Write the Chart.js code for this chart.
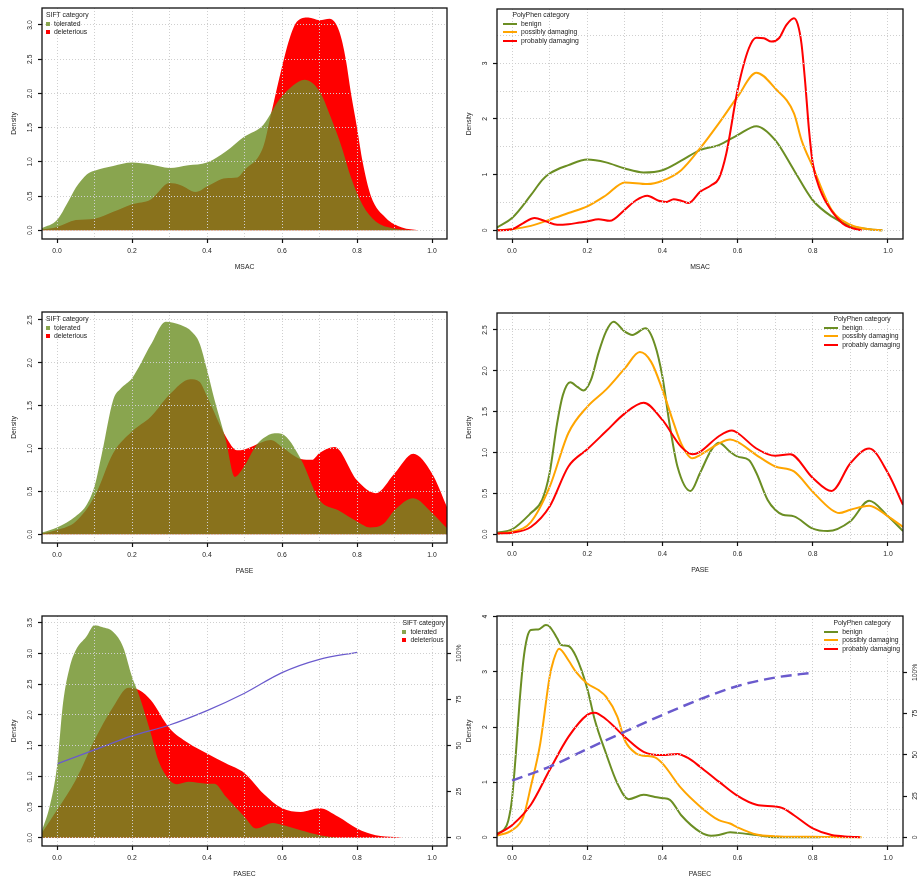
<!DOCTYPE html>
<html lang="en">
<head>
<meta charset="UTF-8">
<title>Density by SIFT / PolyPhen category</title>
<script src="https://cdn.jsdelivr.net/npm/chart.js"></script>
<style>
  body { margin: 0; background: #fff; font-family: 'Liberation Sans', Arial, sans-serif; }
  #page { position: relative; width: 922px; height: 879px; overflow: hidden; }
  #page canvas { position: absolute; }
  .legend { position: absolute; font-size: 6.8px; color: #222; line-height: 8.3px; white-space: nowrap; }
  .legend .ttl { text-align: center; height: 10px; line-height: 10px; }
  .legend .row { display: flex; align-items: center; height: 8.3px; }
  .legend .sq { width: 4px; height: 4px; margin-right: 4px; }
  .legend .ln { width: 14px; height: 2px; margin-right: 4px; }
</style>
</head>
<body>
<div id="page"></div>
<script>
// ---- axes ----
const xGrid = [0, 0.1, 0.2, 0.3, 0.4, 0.5, 0.6, 0.7, 0.8, 0.9, 1.0];
const xLabelled = [0, 0.2, 0.4, 0.6, 0.8, 1.0];
const pctTicks = [0, 25, 50, 75, 100];
const pctLabels = ['0', '25', '50', '75', '100%'];

const siftNames = ['tolerated', 'deleterious'];
const polyNames = ['benign', 'possibly damaging', 'probably damaging'];

// ---- MSAC, SIFT ----
const msacTolX = [-0.04, 0, 0.03, 0.05, 0.08, 0.1, 0.15, 0.2, 0.25, 0.3, 0.35, 0.4, 0.45, 0.5, 0.55, 0.593, 0.63, 0.66, 0.7, 0.73, 0.76, 0.784, 0.815, 0.85, 0.895, 0.94, 0.99];
const msacTolY = [0.03, 0.15, 0.42, 0.62, 0.82, 0.87, 0.94, 0.99, 0.96, 0.91, 0.95, 0.99, 1.15, 1.37, 1.54, 1.91, 2.12, 2.2, 2.03, 1.65, 1.2, 0.77, 0.37, 0.13, 0.03, 0.005, 0];
const msacDelX = [-0.04, 0, 0.05, 0.1, 0.15, 0.2, 0.25, 0.3, 0.33, 0.37, 0.4, 0.45, 0.48, 0.5, 0.55, 0.57, 0.593, 0.62, 0.64, 0.67, 0.7, 0.727, 0.753, 0.77, 0.784, 0.8, 0.815, 0.837, 0.877, 0.92, 0.965];
const msacDelY = [0.01, 0.05, 0.15, 0.17, 0.27, 0.38, 0.45, 0.69, 0.66, 0.56, 0.64, 0.76, 0.77, 0.88, 1.22, 1.68, 2.23, 2.8, 3.05, 3.11, 3.07, 3.09, 2.9, 2.5, 2.0, 1.5, 1.0, 0.5, 0.18, 0.04, 0];

// ---- MSAC, PolyPhen ----
const msacBenX = [-0.04, 0, 0.05, 0.08, 0.1, 0.15, 0.2, 0.25, 0.3, 0.35, 0.4, 0.45, 0.5, 0.55, 0.6, 0.65, 0.7, 0.75, 0.8, 0.85, 0.9, 0.95, 0.985];
const msacBenY = [0.05, 0.22, 0.63, 0.9, 1.02, 1.17, 1.27, 1.22, 1.11, 1.04, 1.08, 1.25, 1.44, 1.53, 1.71, 1.87, 1.62, 1.08, 0.54, 0.25, 0.08, 0.02, 0];
const msacPosX = [-0.04, 0, 0.05, 0.1, 0.15, 0.2, 0.25, 0.3, 0.36, 0.4, 0.45, 0.5, 0.55, 0.6, 0.65, 0.7, 0.75, 0.77, 0.8, 0.85, 0.9, 0.95, 0.985];
const msacPosY = [0, 0.02, 0.08, 0.19, 0.31, 0.43, 0.63, 0.86, 0.83, 0.89, 1.08, 1.47, 1.92, 2.4, 2.83, 2.55, 2.1, 1.62, 1.14, 0.37, 0.1, 0.02, 0];
const msacProX = [-0.04, 0, 0.03, 0.06, 0.09, 0.12, 0.15, 0.18, 0.2, 0.23, 0.26, 0.3, 0.33, 0.36, 0.39, 0.41, 0.43, 0.45, 0.47, 0.5, 0.53, 0.55, 0.57, 0.6, 0.63, 0.65, 0.67, 0.69, 0.71, 0.73, 0.75, 0.76, 0.77, 0.78, 0.79, 0.8, 0.82, 0.85, 0.88, 0.9, 0.93];
const msacProY = [0, 0.02, 0.13, 0.22, 0.16, 0.1, 0.11, 0.14, 0.16, 0.2, 0.17, 0.37, 0.54, 0.62, 0.53, 0.51, 0.56, 0.53, 0.49, 0.69, 0.81, 0.93, 1.38, 2.52, 3.27, 3.46, 3.45, 3.39, 3.45, 3.69, 3.81, 3.7, 3.35, 2.64, 1.8, 1.2, 0.72, 0.35, 0.12, 0.05, 0];

// ---- PASE, SIFT ----
const paseTolX = [-0.04, 0, 0.05, 0.08, 0.1, 0.12, 0.15, 0.17, 0.2, 0.25, 0.29, 0.33, 0.36, 0.38, 0.4, 0.42, 0.45, 0.474, 0.5, 0.53, 0.55, 0.58, 0.6, 0.65, 0.7, 0.75, 0.8, 0.835, 0.87, 0.9, 0.95, 1.0, 1.04];
const paseTolY = [0.02, 0.08, 0.21, 0.35, 0.56, 0.95, 1.57, 1.7, 1.82, 2.21, 2.48, 2.44, 2.36, 2.23, 1.92, 1.57, 1.1, 0.67, 0.8, 1.03, 1.12, 1.18, 1.17, 0.88, 0.4, 0.28, 0.15, 0.08, 0.12, 0.28, 0.42, 0.25, 0.07];
const paseDelX = [-0.04, 0, 0.05, 0.1, 0.15, 0.2, 0.25, 0.3, 0.355, 0.38, 0.4, 0.45, 0.48, 0.5, 0.55, 0.57, 0.6, 0.65, 0.68, 0.7, 0.74, 0.8, 0.85, 0.9, 0.95, 1.0, 1.04];
const paseDelY = [0.01, 0.05, 0.15, 0.44, 0.95, 1.2, 1.37, 1.63, 1.81, 1.78, 1.61, 1.14, 0.98, 0.99, 1.08, 1.1, 1.02, 0.88, 0.87, 0.95, 1.02, 0.63, 0.48, 0.71, 0.94, 0.71, 0.32];

// ---- PASE, PolyPhen ----
const paseBenX = [-0.04, 0, 0.05, 0.08, 0.1, 0.12, 0.135, 0.155, 0.175, 0.19, 0.21, 0.23, 0.25, 0.27, 0.3, 0.32, 0.355, 0.38, 0.4, 0.42, 0.44, 0.475, 0.5, 0.53, 0.55, 0.58, 0.6, 0.63, 0.65, 0.68, 0.7, 0.72, 0.75, 0.8, 0.84, 0.9, 0.95, 1.0, 1.04];
const paseBenY = [0.02, 0.06, 0.26, 0.42, 0.75, 1.36, 1.7, 1.86, 1.8, 1.76, 1.89, 2.22, 2.48, 2.6, 2.48, 2.44, 2.52, 2.32, 1.93, 1.32, 0.83, 0.53, 0.75, 1.03, 1.12, 1.01, 0.95, 0.91, 0.75, 0.42, 0.3, 0.24, 0.22, 0.07, 0.04, 0.16, 0.41, 0.22, 0.04];
const pasePosX = [-0.04, 0, 0.05, 0.1, 0.15, 0.2, 0.25, 0.3, 0.34, 0.37, 0.4, 0.43, 0.45, 0.48, 0.5, 0.55, 0.58, 0.6, 0.65, 0.7, 0.75, 0.8, 0.85, 0.87, 0.9, 0.95, 1.0, 1.04];
const pasePosY = [0.01, 0.03, 0.15, 0.58, 1.24, 1.56, 1.77, 2.03, 2.23, 2.11, 1.77, 1.36, 1.11, 0.93, 0.97, 1.11, 1.16, 1.13, 0.97, 0.83, 0.77, 0.52, 0.3, 0.26, 0.3, 0.35, 0.22, 0.09];
const paseProX = [-0.04, 0, 0.05, 0.1, 0.15, 0.2, 0.25, 0.3, 0.35, 0.4, 0.45, 0.48, 0.5, 0.55, 0.585, 0.6, 0.65, 0.7, 0.74, 0.8, 0.85, 0.9, 0.95, 1.0, 1.04];
const paseProY = [0.01, 0.02, 0.09, 0.34, 0.83, 1.04, 1.26, 1.48, 1.61, 1.4, 1.07, 0.98, 1.01, 1.2, 1.27, 1.24, 1.05, 0.96, 0.98, 0.69, 0.53, 0.87, 1.05, 0.75, 0.36];

// ---- PASEC, SIFT ----
const pasecTolX = [-0.04, -0.02, 0, 0.016, 0.034, 0.05, 0.078, 0.1, 0.12, 0.15, 0.176, 0.2, 0.22, 0.25, 0.27, 0.3, 0.32, 0.35, 0.4, 0.42, 0.45, 0.5, 0.53, 0.576, 0.6, 0.65, 0.7, 0.75];
const pasecTolY = [0.12, 0.5, 1.16, 2.19, 2.78, 3.05, 3.27, 3.46, 3.43, 3.35, 3.11, 2.62, 2.3, 1.7, 1.26, 0.94, 0.87, 0.91, 0.88, 0.88, 0.67, 0.34, 0.15, 0.24, 0.21, 0.12, 0.04, 0];
const pasecDelX = [-0.04, 0, 0.05, 0.1, 0.15, 0.19, 0.22, 0.25, 0.3, 0.35, 0.4, 0.45, 0.5, 0.55, 0.6, 0.65, 0.7, 0.75, 0.8, 0.85, 0.9, 0.92];
const pasecDelY = [0.08, 0.45, 0.94, 1.59, 2.13, 2.44, 2.4, 2.24, 1.78, 1.54, 1.37, 1.21, 1.05, 0.72, 0.48, 0.42, 0.48, 0.34, 0.15, 0.04, 0.01, 0];
const pasecCumX = [0, 0.1, 0.2, 0.3, 0.4, 0.5, 0.6, 0.7, 0.8];
const pasecCumSift = [40, 47.6, 55.2, 61.1, 68.9, 78.3, 89.5, 96.7, 100.5];

// ---- PASEC, PolyPhen ----
const pasecBenX = [-0.04, -0.02, -0.01, 0, 0.01, 0.02, 0.03, 0.04, 0.05, 0.07, 0.09, 0.1, 0.12, 0.13, 0.15, 0.17, 0.2, 0.22, 0.25, 0.28, 0.31, 0.35, 0.38, 0.4, 0.42, 0.45, 0.5, 0.53, 0.55, 0.58, 0.6, 0.65, 0.7, 0.82];
const pasecBenY = [0.07, 0.15, 0.3, 0.7, 1.5, 2.45, 3.2, 3.62, 3.76, 3.77, 3.85, 3.82, 3.61, 3.49, 3.47, 3.28, 2.7, 2.13, 1.52, 0.98, 0.69, 0.77, 0.73, 0.71, 0.68, 0.4, 0.1, 0.03, 0.04, 0.09, 0.08, 0.04, 0, 0];
const pasecPosX = [-0.04, 0, 0.03, 0.05, 0.075, 0.1, 0.11, 0.125, 0.15, 0.17, 0.2, 0.23, 0.25, 0.28, 0.3, 0.33, 0.35, 0.38, 0.4, 0.45, 0.5, 0.55, 0.58, 0.6, 0.65, 0.7, 0.75, 0.8, 0.9, 0.93];
const pasecPosY = [0.03, 0.13, 0.37, 0.92, 1.7, 2.91, 3.2, 3.42, 3.21, 3.0, 2.79, 2.67, 2.55, 2.19, 1.76, 1.52, 1.48, 1.45, 1.34, 0.89, 0.56, 0.31, 0.25, 0.18, 0.05, 0.02, 0.01, 0.01, 0, 0];
const pasecProX = [-0.04, 0, 0.05, 0.1, 0.15, 0.2, 0.22, 0.25, 0.3, 0.35, 0.4, 0.44, 0.47, 0.5, 0.55, 0.6, 0.65, 0.7, 0.72, 0.75, 0.8, 0.85, 0.9, 0.925];
const pasecProY = [0.05, 0.22, 0.59, 1.22, 1.82, 2.22, 2.26, 2.14, 1.82, 1.55, 1.49, 1.51, 1.43, 1.28, 1.01, 0.75, 0.59, 0.56, 0.53, 0.4, 0.16, 0.04, 0.01, 0];
const pasecCumPoly = [34.3, 42.8, 53.5, 64, 74.1, 83.6, 91.7, 96.8, 99.8];

// ---- colours ----
const tolFill = 'rgba(107,142,35,0.8)';
const delFill = '#ff0000';
const polyColors = ['#6b8e23', '#ffa500', '#ff0000'];
const cumColor = '#6a5acd';
const txt = '#222';

Chart.defaults.font.family = "'Liberation Sans', Arial, sans-serif";
Chart.defaults.font.size = 6.8;
Chart.defaults.color = txt;

const pts = (xs, ys) => xs.map((x, i) => ({x: x, y: ys[i]}));
const isIn = (v, arr) => arr.some(a => Math.abs(a - v) < 1e-9);

function siftSets(tx, ty, dx, dy) {
  return [
    {label: siftNames[0], data: pts(tx, ty), backgroundColor: tolFill, borderColor: 'rgba(0,0,0,0)', borderWidth: 0, fill: 'origin', order: 1},
    {label: siftNames[1], data: pts(dx, dy), backgroundColor: delFill, borderColor: 'rgba(0,0,0,0)', borderWidth: 0, fill: 'origin', order: 2}
  ];
}
function polySets(series) {
  return series.map((s, i) => ({label: polyNames[i], data: pts(s[0], s[1]), borderColor: polyColors[i], borderWidth: 2, fill: false, order: 3 - i}));
}

// rotated y tick labels (R style) and the box around the plot region
const rFrame = {
  id: 'rFrame',
  afterDraw(chart) {
    const ctx = chart.ctx, a = chart.chartArea;
    ctx.save();
    ctx.fillStyle = txt;
    ctx.font = "6.8px 'Liberation Sans', Arial, sans-serif";
    ctx.textAlign = 'center';
    ctx.textBaseline = 'middle';
    ['y', 'y1'].forEach(id => {
      const s = chart.scales[id];
      if (!s) return;
      const x = id === 'y' ? a.left - 11.5 : a.right + 12;
      s.ticks.forEach(t => {
        if (!t.label) return;
        ctx.save();
        ctx.translate(x, s.getPixelForValue(t.value));
        ctx.rotate(-Math.PI / 2);
        ctx.fillText(t.label, 0, 0);
        ctx.restore();
      });
    });
    ctx.strokeStyle = '#111';
    ctx.lineWidth = 1.3;
    ctx.strokeRect(a.left, a.top, a.right - a.left, a.bottom - a.top);
    ctx.restore();
  }
};

const panels = [
  {area: [42, 8, 447, 239], xTitle: 'MSAC', yMin: -0.127, yMax: 3.248, yGrid: [0, 0.5, 1, 1.5, 2, 2.5, 3], yLab: [0, 0.5, 1, 1.5, 2, 2.5, 3], dec: 1,
   sets: siftSets(msacTolX, msacTolY, msacDelX, msacDelY), legend: {kind: 'sq', names: siftNames, colors: [tolFill, delFill], left: 46, top: 10}},
  {area: [497, 9, 903, 239], xTitle: 'MSAC', yMin: -0.156, yMax: 3.975, yGrid: [0, 0.5, 1, 1.5, 2, 2.5, 3, 3.5], yLab: [0, 1, 2, 3], dec: 0,
   sets: polySets([[msacBenX, msacBenY], [msacPosX, msacPosY], [msacProX, msacProY]]), legend: {kind: 'ln', names: polyNames, colors: polyColors, left: 503, top: 10}},
  {area: [42, 312, 447, 543], xTitle: 'PASE', yMin: -0.101, yMax: 2.593, yGrid: [0, 0.5, 1, 1.5, 2, 2.5], yLab: [0, 0.5, 1, 1.5, 2, 2.5], dec: 1,
   sets: siftSets(paseTolX, paseTolY, paseDelX, paseDelY), legend: {kind: 'sq', names: siftNames, colors: [tolFill, delFill], left: 46, top: 314}},
  {area: [497, 313, 903, 542], xTitle: 'PASE', yMin: -0.094, yMax: 2.708, yGrid: [0, 0.5, 1, 1.5, 2, 2.5], yLab: [0, 0.5, 1, 1.5, 2, 2.5], dec: 1,
   sets: polySets([[paseBenX, paseBenY], [pasePosX, pasePosY], [paseProX, paseProY]]), legend: {kind: 'ln', names: polyNames, colors: polyColors, right: 22, top: 314}},
  {area: [42, 616, 447, 846], xTitle: 'PASEC', yMin: -0.135, yMax: 3.609, yGrid: [0, 0.5, 1, 1.5, 2, 2.5, 3, 3.5], yLab: [0, 0.5, 1, 1.5, 2, 2.5, 3, 3.5], dec: 1,
   y1: [-4.5, 120.2],
   sets: [{label: 'cumulative', data: pts(pasecCumX, pasecCumSift), yAxisID: 'y1', borderColor: cumColor, borderWidth: 1.2, fill: false, tension: 0, order: 0}]
         .concat(siftSets(pasecTolX, pasecTolY, pasecDelX, pasecDelY)),
   legend: {kind: 'sq', names: siftNames, colors: [tolFill, delFill], right: 477, top: 618}},
  {area: [497, 616, 903, 846], xTitle: 'PASEC', yMin: -0.158, yMax: 4.013, yGrid: [0, 0.5, 1, 1.5, 2, 2.5, 3, 3.5, 4], yLab: [0, 1, 2, 3, 4], dec: 0,
   y1: [-5.27, 134.1],
   sets: polySets([[pasecBenX, pasecBenY], [pasecPosX, pasecPosY], [pasecProX, pasecProY]])
         .concat([{label: 'cumulative', data: pts(pasecCumX, pasecCumPoly), yAxisID: 'y1', borderColor: cumColor, borderWidth: 2.5, borderDash: [11, 6], fill: false, order: 0}]),
   legend: {kind: 'ln', names: polyNames, colors: polyColors, right: 22, top: 618}}
];

const page = document.getElementById('page');

panels.forEach(p => {
  const [L, T, R, B] = p.area;
  const cx = L - 42, cy = T - 8, cw = R - L + 42 + 24, ch = B - T + 48;
  const cv = document.createElement('canvas');
  cv.width = cw; cv.height = ch;
  cv.style.left = cx + 'px'; cv.style.top = cy + 'px';
  cv.style.width = cw + 'px'; cv.style.height = ch + 'px';
  page.appendChild(cv);

  const gridTick = (labs) => (c) => (c.tick && isIn(c.tick.value, labs)) ? '#111' : 'rgba(0,0,0,0)';
  const scales = {
    x: {
      type: 'linear', min: -0.04, max: 1.04,
      afterBuildTicks: s => { s.ticks = xGrid.map(v => ({value: v})); },
      afterFit: s => { s.height = cy + ch - B; },
      ticks: {autoSkip: false, maxRotation: 0, padding: 3.9, callback: v => isIn(v, xLabelled) ? v.toFixed(1) : ''},
      grid: {color: '#cfcfcf', lineWidth: 1, tickLength: 4, tickWidth: 1.2, tickColor: gridTick(xLabelled), z: 1},
      border: {display: false, dash: [1, 2]},
      title: {display: true, text: p.xTitle, padding: {top: 0, bottom: 7.9}}
    },
    y: {
      min: p.yMin, max: p.yMax,
      afterBuildTicks: s => { s.ticks = p.yGrid.map(v => ({value: v})); },
      afterFit: s => { s.width = L - cx; },
      ticks: {display: false, callback: v => isIn(v, p.yLab) ? v.toFixed(p.dec) : ''},
      grid: {color: '#cfcfcf', lineWidth: 1, tickLength: 4, tickWidth: 1.2, tickColor: gridTick(p.yLab), z: 1},
      border: {display: false, dash: [1, 2]},
      title: {display: true, text: 'Density', padding: {top: 9.9, bottom: 0}}
    }
  };
  if (p.y1) {
    scales.y1 = {
      position: 'right', min: p.y1[0], max: p.y1[1],
      afterBuildTicks: s => { s.ticks = pctTicks.map(v => ({value: v})); },
      afterFit: s => { s.width = cx + cw - R; },
      ticks: {display: false, callback: (v, i) => pctLabels[i]},
      grid: {drawOnChartArea: false, tickLength: 4, tickWidth: 1.2, tickColor: '#111'},
      border: {display: false}
    };
  }

  new Chart(cv.getContext('2d'), {
    type: 'line',
    data: {datasets: p.sets},
    options: {
      responsive: false,
      animation: false,
      layout: {padding: {left: 0, top: T - cy, right: p.y1 ? 0 : cx + cw - R, bottom: 0}},
      elements: {point: {radius: 0}, line: {cubicInterpolationMode: 'monotone'}},
      plugins: {legend: {display: false}, tooltip: {enabled: false}},
      scales: scales
    },
    plugins: [rFrame]
  });

  // legend box, R style (no border)
  const lg = p.legend;
  const box = document.createElement('div');
  box.className = 'legend';
  box.style.top = lg.top + 'px';
  if (lg.left !== undefined) box.style.left = lg.left + 'px'; else box.style.right = lg.right + 'px';
  let html = '<div class="ttl">' + (lg.kind === 'sq' ? 'SIFT category' : 'PolyPhen category') + '</div>';
  lg.names.forEach((n, i) => {
    html += '<div class="row"><span class="' + lg.kind + '" style="background:' + lg.colors[i] + '"></span><span>' + n + '</span></div>';
  });
  box.innerHTML = html;
  page.appendChild(box);
});
</script>
</body>
</html>
